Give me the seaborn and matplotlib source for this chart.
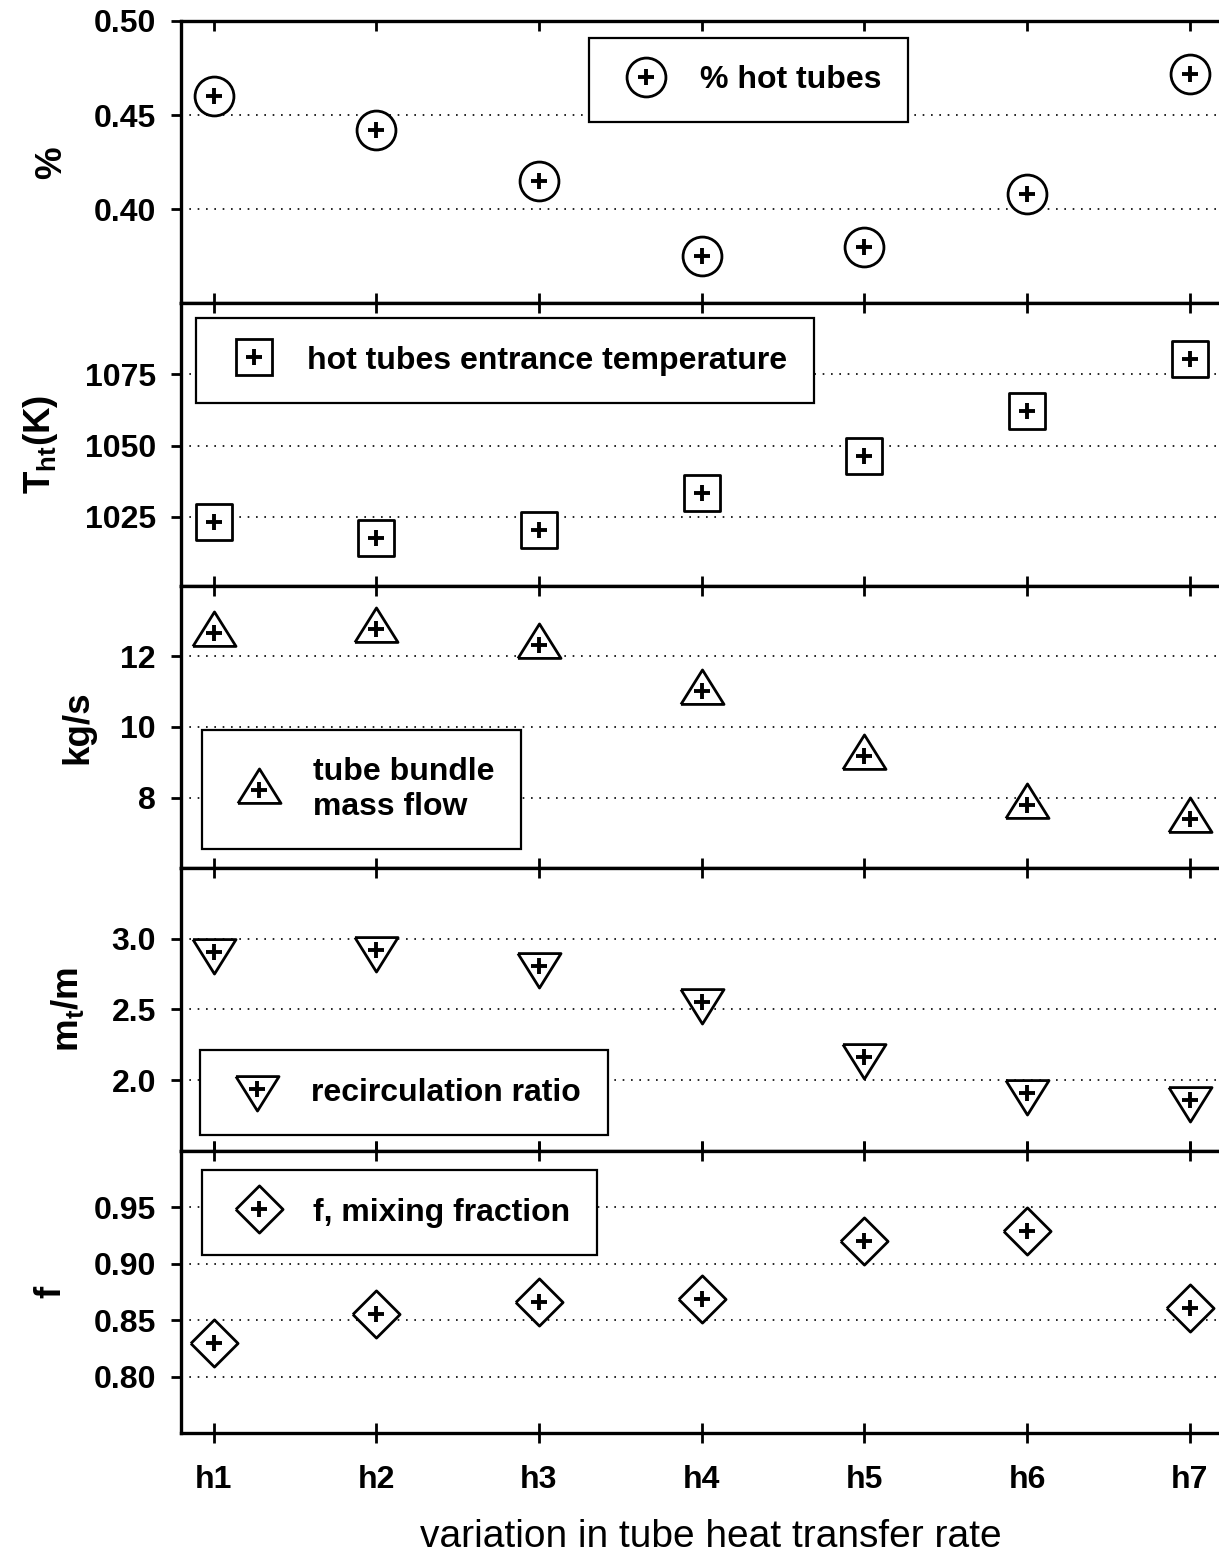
import matplotlib
matplotlib.use("Agg")
import matplotlib.pyplot as plt
from matplotlib.lines import Line2D
import seaborn as sns
import pandas as pd

# ---- data -------------------------------------------------------------
cases = ["h1", "h2", "h3", "h4", "h5", "h6", "h7"]
hot_tubes_pct = [0.460, 0.442, 0.415, 0.375, 0.380, 0.408, 0.472]
hot_tube_temp = [1023.2, 1017.6, 1020.4, 1033.5, 1046.5, 1062.3, 1080.3]
bundle_mass_flow = [12.66, 12.77, 12.31, 11.03, 9.17, 7.80, 7.40]
recirc_ratio = [2.91, 2.92, 2.81, 2.55, 2.16, 1.91, 1.86]
mixing_fraction = [0.830, 0.855, 0.866, 0.869, 0.920, 0.929, 0.861]

series_labels = ["% hot tubes", "hot tubes entrance temperature",
                 "tube bundle\nmass flow", "recirculation ratio",
                 "f, mixing fraction"]
y_labels = ["%", r"T$_{ht}$(K)", "kg/s", r"m$_t$/m", "f"]
y_limits = [(0.35, 0.50), (1000.7, 1100), (6, 14), (1.5, 3.5), (0.75, 1.0)]
y_ticks = [[0.40, 0.45, 0.50], [1025, 1050, 1075], [8, 10, 12],
           [2.0, 2.5, 3.0], [0.80, 0.85, 0.90, 0.95]]
y_fmt = ["{:.2f}", "{:.0f}", "{:.0f}", "{:.1f}", "{:.2f}"]
x_label = "variation in tube heat transfer rate"

# ---- style ------------------------------------------------------------
sns.set_theme(style="white")
plt.rcParams["font.family"] = ["Liberation Sans", "DejaVu Sans"]
plt.rcParams["mathtext.fontset"] = "custom"
plt.rcParams["mathtext.rm"] = "Liberation Sans:bold"
plt.rcParams["mathtext.it"] = "Liberation Sans:bold"
plt.rcParams["mathtext.bf"] = "Liberation Sans:bold"
plt.rcParams["mathtext.default"] = "rm"
for key in ["text.color", "axes.labelcolor", "xtick.color", "ytick.color",
            "legend.labelcolor"]:
    plt.rcParams[key] = "black"

FS = 23
YLAB_FS = 26.5
circle = "o"
square = "s"
tri_up = [(-1.0, -0.6), (1.0, -0.6), (0.0, 1.0), (-1.0, -0.6)]
tri_down = [(-1.0, 0.6), (1.0, 0.6), (0.0, -1.0), (-1.0, 0.6)]
diamond = [(-1.0, 0.0), (0.0, 1.0), (1.0, 0.0), (0.0, -1.0), (-1.0, 0.0)]
markers = [circle, square, tri_up, tri_down, diamond]
marker_sizes = [28, 26.5, 31, 31, 34]
legend_anchor = [(0.393, 0.94), (0.0145, 0.947), (0.0202, 0.489),
                 (0.0183, 0.355), (0.0202, 0.93)]

series = [hot_tubes_pct, hot_tube_temp, bundle_mass_flow, recirc_ratio,
          mixing_fraction]

fig, axes = plt.subplots(5, 1, figsize=(12.19, 15.56), dpi=100, sharex=True,
                         gridspec_kw=dict(hspace=0))
fig.subplots_adjust(left=181 / 1219, right=1.0, top=1 - 21 / 1556,
                    bottom=1 - 1433 / 1556)

for i, ax in enumerate(axes):
    df = pd.DataFrame({"case": cases, "value": series[i]})
    ms = marker_sizes[i]
    sns.scatterplot(data=df, x="case", y="value", marker=markers[i],
                    s=ms ** 2, facecolor="white", edgecolor="black",
                    linewidth=2.0, ax=ax, zorder=3, legend=False)
    sns.scatterplot(data=df, x="case", y="value", marker="+", s=11 ** 2,
                    color="black", linewidth=2.8, ax=ax, zorder=4,
                    legend=False)

    ax.set_xlim(-0.2, 6.18)
    ax.set_ylim(*y_limits[i])
    ax.set_yticks(y_ticks[i])
    ax.set_yticklabels([y_fmt[i].format(v) for v in y_ticks[i]],
                       fontsize=FS, fontweight="bold")
    ax.set_ylabel(y_labels[i], fontsize=YLAB_FS, fontweight="bold",
                  labelpad=18)
    ax.set_xlabel("")

    for v in y_ticks[i]:
        ax.axhline(v, color="black", lw=1.2, ls=(0, (1, 4)), zorder=1)

    for side in ["left", "top", "bottom"]:
        ax.spines[side].set_visible(True)
        ax.spines[side].set_color("black")
        ax.spines[side].set_linewidth(2.4)
    ax.spines["right"].set_visible(False)

    ax.tick_params(axis="y", direction="out", length=7, width=2,
                   color="black", pad=11, left=True)
    last = i == len(axes) - 1
    ax.tick_params(axis="x", which="both", top=True, bottom=True,
                   direction="in", length=7, width=2, color="black",
                   labelbottom=last)
    if last:
        ax.tick_params(axis="x", which="major", bottom=True, direction="inout",
                       length=14, pad=16)
        ax.set_xticks(range(len(cases)))
        ax.set_xticklabels(cases, fontsize=FS, fontweight="bold")
        ax.set_xlabel(x_label, fontsize=28, fontweight="normal", labelpad=12)
        ax.xaxis.set_label_coords(0.51, -0.305)

    handle = (Line2D([], [], marker=markers[i], ms=ms, mfc="white",
                     mec="black", mew=2.0, ls="none"),
              Line2D([], [], marker="+", ms=11, mec="black", mew=2.8,
                     ls="none"))
    leg = ax.legend([handle], [series_labels[i]], loc="upper left",
                    bbox_to_anchor=legend_anchor[i], frameon=True,
                    fancybox=False, framealpha=1, edgecolor="black",
                    borderpad=0.85, handlelength=1.9, handletextpad=0.72,
                    borderaxespad=0, prop=dict(size=FS, weight="bold"))
    leg.get_frame().set_linewidth(1.6)
    leg.set_zorder(5)

fig.savefig("out.png", dpi=100)
